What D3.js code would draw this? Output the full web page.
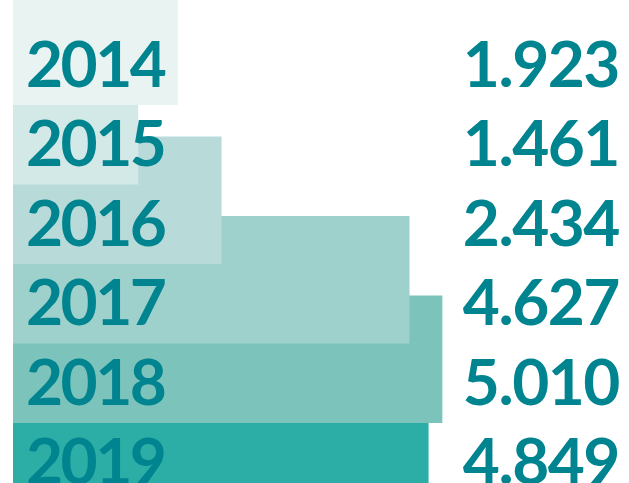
<!DOCTYPE html>
<html>
<head>
<meta charset="utf-8">
<script src="https://cdn.jsdelivr.net/npm/d3@7"></script>
<style>
  html, body { margin: 0; padding: 0; background: #fff; overflow: hidden; }
  #chart { width: 629px; height: 483px; }
</style>
</head>
<body>
<div id="chart"></div>
<script>
const WIDTH = 629;
const HEIGHT = 483;

const years = ['2014', '2015', '2016', '2017', '2018', '2019'];
const values = [1.923, 1.461, 2.434, 4.627, 5.010, 4.849];
const valueLabels = ['1.923', '1.461', '2.434', '4.627', '5.010', '4.849'];
const colors = ['#e8f3f2', '#d3e9e7', '#b8dbd9', '#9ed1cb', '#7cc3bb', '#2caea6'];

const TEXT_COLOR = '#00848f';
const ROW_STEP = 79.5;
const BAR_HEIGHT = 127.5;

const svg = d3.select('#chart').append('svg')
  .attr('width', WIDTH)
  .attr('height', HEIGHT);

const x = d3.scaleLinear()
  .domain([0, 1])
  .range([13, 13 + 85.7]);

// each band ends where its bar ends; bars reach up into the row above
const y = d3.scaleBand()
  .domain(years)
  .range([25.5, 25.5 + ROW_STEP * years.length])
  .padding(0);

const rows = years.map((year, i) => ({ year, value: values[i], label: valueLabels[i], color: colors[i] }));

// later years go underneath, so draw them first
svg.append('g')
  .selectAll('rect')
  .data(rows.slice().reverse())
  .join('rect')
  .attr('x', x(0))
  .attr('y', d => y(d.year) + y.bandwidth() - BAR_HEIGHT)
  .attr('width', d => x(d.value) - x(0))
  .attr('height', BAR_HEIGHT)
  .attr('fill', d => d.color);

const labels = svg.append('g')
  .style('font-family', 'Lato, sans-serif')
  .style('font-weight', 700)
  .style('font-size', '64px')
  .attr('fill', TEXT_COLOR);

labels.selectAll('text.year')
  .data(rows)
  .join('text')
  .attr('class', 'year')
  .attr('x', 26)
  .attr('y', d => y(d.year) + y.bandwidth() - 18.5)
  .style('letter-spacing', '-2.5px')
  .text(d => d.year);

labels.selectAll('text.value')
  .data(rows)
  .join('text')
  .attr('class', 'value')
  .attr('x', 619)
  .attr('y', d => y(d.year) + y.bandwidth() - 18.5)
  .attr('text-anchor', 'end')
  .style('letter-spacing', '-1.5px')
  .text(d => d.label);
</script>
</body>
</html>
